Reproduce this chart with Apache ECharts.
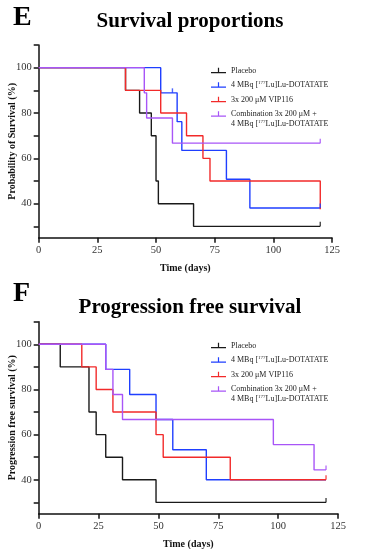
<!DOCTYPE html>
<html><head><meta charset="utf-8">
<script src="https://cdn.jsdelivr.net/npm/echarts@6/dist/echarts.min.js"></script>
<style>html,body{margin:0;padding:0;background:#fff}#c{width:365px;height:549px}</style>
</head><body><div id="c"></div>
<script>
// ---------- data ----------
const seriesNames = ['Placebo', '4 MBq [177Lu]Lu-DOTATATE', '3x 200 μM VIP116', 'Combination 3x 200 μM + 4 MBq [177Lu]Lu-DOTATATE'];
const legendLabels = ['Placebo', '4 MBq [{sup|177}Lu]Lu-DOTATATE', '3x 200 μM VIP116', 'Combination 3x 200 μM +\n4 MBq [{sup|177}Lu]Lu-DOTATATE'];
const seriesColors = ['#1a1a1a', '#1f3fff', '#f22a2a', '#a855f7'];
const xTickValues = [0, 25, 50, 75, 100, 125];
const yTickValues = [30, 40, 50, 60, 70, 80, 90, 100, 110];
const yLabelValues = [40, 60, 80, 100];

// Survival proportions (E)
const osPlaceboDays = [0, 37, 43, 48, 50, 51, 66, 120];
const osPlaceboPct  = [100, 90, 80, 70, 50, 40, 30, 30];
const osLuDays      = [0, 52, 59, 61, 80, 90, 120];
const osLuPct       = [100, 88.9, 76.2, 63.5, 50.8, 38.1, 38.1];
const osVipDays     = [0, 37, 52, 63, 70, 73, 120];
const osVipPct      = [100, 90, 80, 70, 60, 50, 37.5];
const osComboDays   = [0, 45, 46, 57, 120];
const osComboPct    = [100, 88.9, 77.8, 66.7, 66.7];
const osCensorDays  = [[120], [57, 120], [], [120]];

// Progression free survival (F)
const pfsPlaceboDays = [0, 9, 21, 24, 28, 35, 49, 120];
const pfsPlaceboPct  = [100, 90, 70, 60, 50, 40, 30, 30];
const pfsLuDays      = [0, 28, 38, 49, 56, 70, 120];
const pfsLuPct       = [100, 88.9, 77.8, 66.7, 53.3, 40, 40];
const pfsVipDays     = [0, 18, 24, 31, 49, 52, 80, 120];
const pfsVipPct      = [100, 90, 80, 70, 60, 50, 40, 40];
const pfsComboDays   = [0, 28, 31, 35, 98, 115, 120];
const pfsComboPct    = [100, 88.9, 77.8, 66.7, 55.6, 44.4, 44.4];
const pfsCensorDays  = [[120], [], [120], [120]];

// ---------- chart ----------
const FONT = "'Liberation Serif', 'Times New Roman', serif";
const zip = (d, v) => d.map((x, i) => [x, v[i]]);
const valueAt = (d, v, t) => { let r = v[0]; d.forEach((x, i) => { if (x <= t) r = v[i]; }); return r; };

const osSets = [[osPlaceboDays, osPlaceboPct], [osLuDays, osLuPct], [osVipDays, osVipPct], [osComboDays, osComboPct]];
const pfsSets = [[pfsPlaceboDays, pfsPlaceboPct], [pfsLuDays, pfsLuPct], [pfsVipDays, pfsVipPct], [pfsComboDays, pfsComboPct]];

function makeSeries(sets, censors, idx) {
  const out = [];
  sets.forEach((s, i) => {
    out.push({
      type: 'line', name: seriesNames[i], xAxisIndex: idx, yAxisIndex: idx,
      step: 'end', data: zip(s[0], s[1]), showSymbol: false, symbol: 'none',
      color: seriesColors[i], lineStyle: { width: 1.4, color: seriesColors[i] }, silent: true, z: 2 + i
    });
  });
  sets.forEach((s, i) => {
    out.push({
      type: 'scatter', name: seriesNames[i], xAxisIndex: idx, yAxisIndex: idx,
      data: censors[i].map(t => [t, valueAt(s[0], s[1], t)]),
      symbol: 'rect', symbolSize: [1.4, 4.5], symbolOffset: [0, '-50%'],
      color: seriesColors[i], itemStyle: { color: seriesColors[i] }, silent: true, z: 10
    });
  });
  return out;
}

function makeX(idx) {
  return {
    type: 'value', gridIndex: idx, min: 0, max: 125, interval: 25,
    name: 'Time (days)', nameLocation: 'middle', nameGap: 26, nameMoveOverlap: false,
    nameTextStyle: { fontFamily: FONT, fontSize: 10, fontWeight: 'bold', color: '#111' },
    axisLine: { onZero: false, lineStyle: { color: '#111', width: 1.5 } },
    axisTick: { length: 5, lineStyle: { color: '#111', width: 1.5 } },
    axisLabel: { margin: 7, fontFamily: FONT, fontSize: 10.5, color: '#333', customValues: xTickValues },
    splitLine: { show: false }
  };
}
function makeY(idx, name) {
  return {
    type: 'value', gridIndex: idx, min: 25, max: 110,
    name: name, nameLocation: 'middle', nameGap: 21, nameRotate: 90, nameMoveOverlap: false,
    nameTextStyle: { fontFamily: FONT, fontSize: 10, fontWeight: 'bold', color: '#111' },
    axisLine: { show: true, onZero: false, lineStyle: { color: '#111', width: 1.5 } },
    axisTick: { show: true, length: 5, lineStyle: { color: '#111', width: 1.5 }, customValues: yTickValues },
    axisLabel: { margin: 7, fontFamily: FONT, fontSize: 10.5, color: '#333', customValues: yLabelValues },
    splitLine: { show: false }
  };
}

const ICON = 'path://M0,4.4h15v1.2H0z M6.9,0h1.2v4.4H6.9z';
function makeLegend(top) {
  return {
    orient: 'vertical', left: 211, top: top, itemWidth: 15, itemHeight: 5.6, itemGap: 4.5,
    padding: 0, selectedMode: false, align: 'left',
    textStyle: { fontFamily: FONT, fontSize: 8, color: '#222', lineHeight: 10,
      rich: { sup: { fontFamily: FONT, fontSize: 5, verticalAlign: 'top', lineHeight: 10, color: '#222' } } },
    formatter: name => legendLabels[seriesNames.indexOf(name)],
    data: seriesNames.map((n, i) => i === 3
      ? { name: n, icon: ICON, textStyle: { padding: [0, 0, -10, 0] } }
      : { name: n, icon: ICON })
  };
}

const option = {
  animation: false,
  backgroundColor: '#fff',
  grid: [
    { left: 38.7, right: 33, top: 45, bottom: 311.3, outerBoundsMode: 'none', containLabel: false },
    { left: 38.7, right: 27, top: 321.7, bottom: 35.3, outerBoundsMode: 'none', containLabel: false }
  ],
  xAxis: [makeX(0), makeX(1)],
  yAxis: [makeY(0, 'Probability of Survival (%)'), makeY(1, 'Progression free survival (%)')],
  legend: [makeLegend(65.5), makeLegend(340.5)],
  series: [...makeSeries(osSets, osCensorDays, 0), ...makeSeries(pfsSets, pfsCensorDays, 1)],
  graphic: [
    { type: 'text', left: 13, top: 4, style: { text: 'E', font: "bold 28px 'Liberation Serif', serif", fill: '#000' } },
    { type: 'text', x: 190, y: 22, style: { text: 'Survival proportions', font: "bold 21px 'Liberation Serif', serif", fill: '#000', align: 'center', verticalAlign: 'middle' } },
    { type: 'text', left: 13, top: 280, style: { text: 'F', font: "bold 28px 'Liberation Serif', serif", fill: '#000' } },
    { type: 'text', x: 190, y: 308, style: { text: 'Progression free survival', font: "bold 21px 'Liberation Serif', serif", fill: '#000', align: 'center', verticalAlign: 'middle' } }
  ]
};
const chart = echarts.init(document.getElementById('c'), null, { renderer: 'canvas' });
chart.setOption(option);
</script></body></html>
